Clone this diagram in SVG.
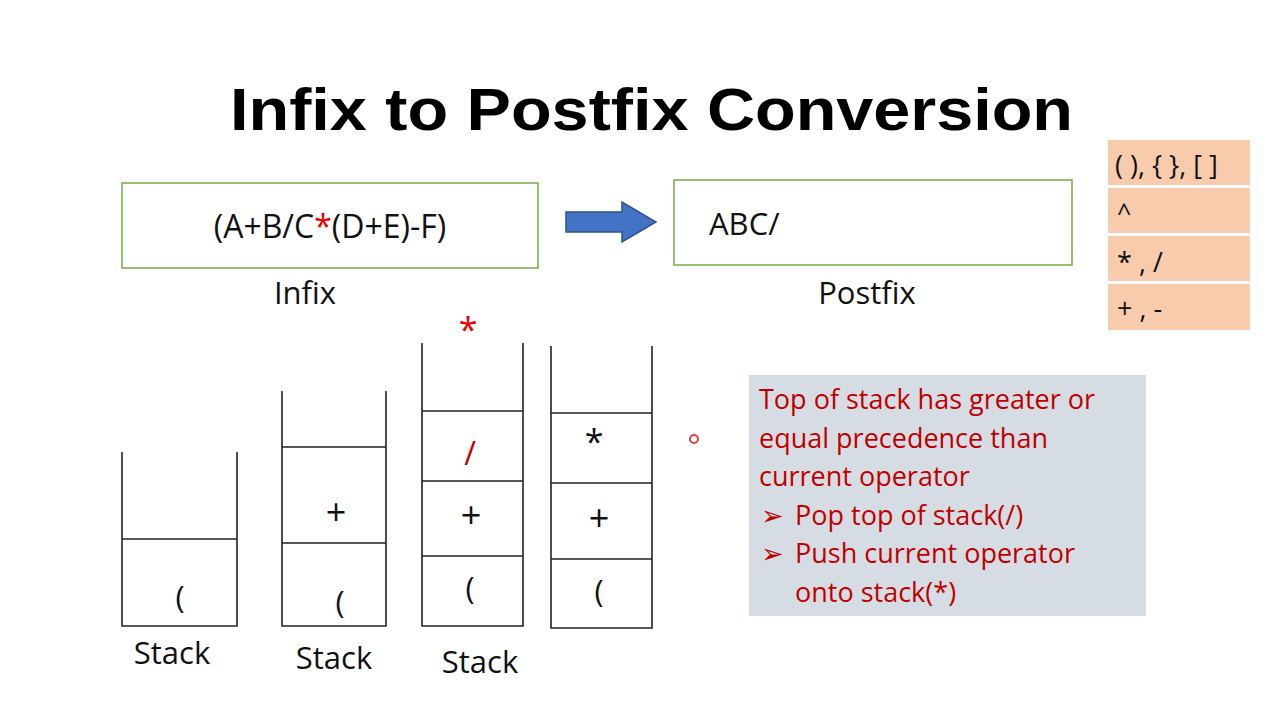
<svg xmlns="http://www.w3.org/2000/svg" width="1280" height="720" viewBox="0 0 1280 720">
<style>
.t{font-family:"Open Sans","Liberation Sans",sans-serif;fill:#111}
.r{font-family:"Open Sans","Liberation Sans",sans-serif;fill:#c00000}
.s{stroke:#222;stroke-width:1.6;fill:none}
.g{fill:#fff;stroke:#70ad47;stroke-width:1.5}
.p{fill:#f8cbad}
</style>
<rect width="1280" height="720" fill="#fff"/>
<text x="230" y="130" textLength="843" lengthAdjust="spacingAndGlyphs" font-family="Liberation Sans,Arial,sans-serif" font-weight="bold" font-size="60" fill="#000">Infix to Postfix Conversion</text>
<g id="infix"><rect class="g" x="122" y="183" width="416" height="85"/>
<text class="t" x="330" y="238" text-anchor="middle" font-size="32">(A+B/C<tspan fill="#e00">*</tspan>(D+E)-F)</text>
<text class="t" x="305" y="304" text-anchor="middle" font-size="31">Infix</text></g>
<g id="arrow"><path d="M566 212 H622 V202 L656 222 L622 242 V232 H566 Z" fill="#4472c4" stroke="#2f528f" stroke-width="1.5"/></g>
<g id="postfix"><rect class="g" x="674" y="180" width="398" height="85"/>
<text class="t" x="709" y="235" font-size="31">ABC/</text>
<text class="t" x="867" y="304" text-anchor="middle" font-size="31">Postfix</text></g>
<g id="prec">
<rect class="p" x="1108" y="140" width="142" height="45"/>
<rect class="p" x="1108" y="188" width="142" height="45"/>
<rect class="p" x="1108" y="236" width="142" height="45"/>
<rect class="p" x="1108" y="284" width="142" height="46"/>
<text class="t" x="1115" y="175" font-size="27">( ), { }, [ ]</text>
<text class="t" x="1117" y="222" font-size="25">^</text>
<text class="t" x="1117" y="272" font-size="27">* , /</text>
<text class="t" x="1117" y="318" font-size="27">+ , -</text></g>
<g id="stack1"><path class="s" d="M122 452 V626 H237 V452 M122 539 H237"/>
<text class="t" x="180" y="608" text-anchor="middle" font-size="31">(</text>
<text class="t" x="172" y="664" text-anchor="middle" font-size="31">Stack</text></g>
<g id="stack2"><path class="s" d="M282 391 V626 H386 V391 M282 447 H386 M282 543 H386"/>
<text class="t" x="336" y="525" text-anchor="middle" font-size="36">+</text>
<text class="t" x="340" y="613" text-anchor="middle" font-size="31">(</text>
<text class="t" x="334" y="669" text-anchor="middle" font-size="31">Stack</text></g>
<g id="stack3"><path class="s" d="M422 343 V626 H523 V343 M422 411 H523 M422 481 H523 M422 556 H523"/>
<text class="r" x="468" y="342" text-anchor="middle" font-size="34" style="fill:#e00">*</text>
<text class="r" x="470" y="465" text-anchor="middle" font-size="32">/</text>
<text class="t" x="471" y="528" text-anchor="middle" font-size="36">+</text>
<text class="t" x="470" y="599" text-anchor="middle" font-size="31">(</text>
<text class="t" x="480" y="673" text-anchor="middle" font-size="31">Stack</text></g>
<g id="stack4"><path class="s" d="M551 346 V628 H652 V346 M551 413 H652 M551 483 H652 M551 559 H652"/>
<text class="t" x="594" y="454" text-anchor="middle" font-size="34">*</text>
<text class="t" x="599" y="531" text-anchor="middle" font-size="36">+</text>
<text class="t" x="599" y="602" text-anchor="middle" font-size="31">(</text></g>
<circle cx="694" cy="439" r="4" fill="none" stroke="#e04040" stroke-width="2"/>
<g id="note"><rect x="749" y="375" width="397" height="241" fill="#d6dce4"/>
<g class="r" font-size="27">
<text x="759" y="409">Top of stack has greater or</text>
<text x="759" y="448">equal precedence than</text>
<text x="759" y="486">current operator</text>
<text x="761" y="525">➢</text><text x="795" y="525">Pop top of stack(/)</text>
<text x="761" y="563">➢</text><text x="795" y="563">Push current operator</text>
<text x="795" y="602">onto stack(*)</text></g></g>
</svg>
